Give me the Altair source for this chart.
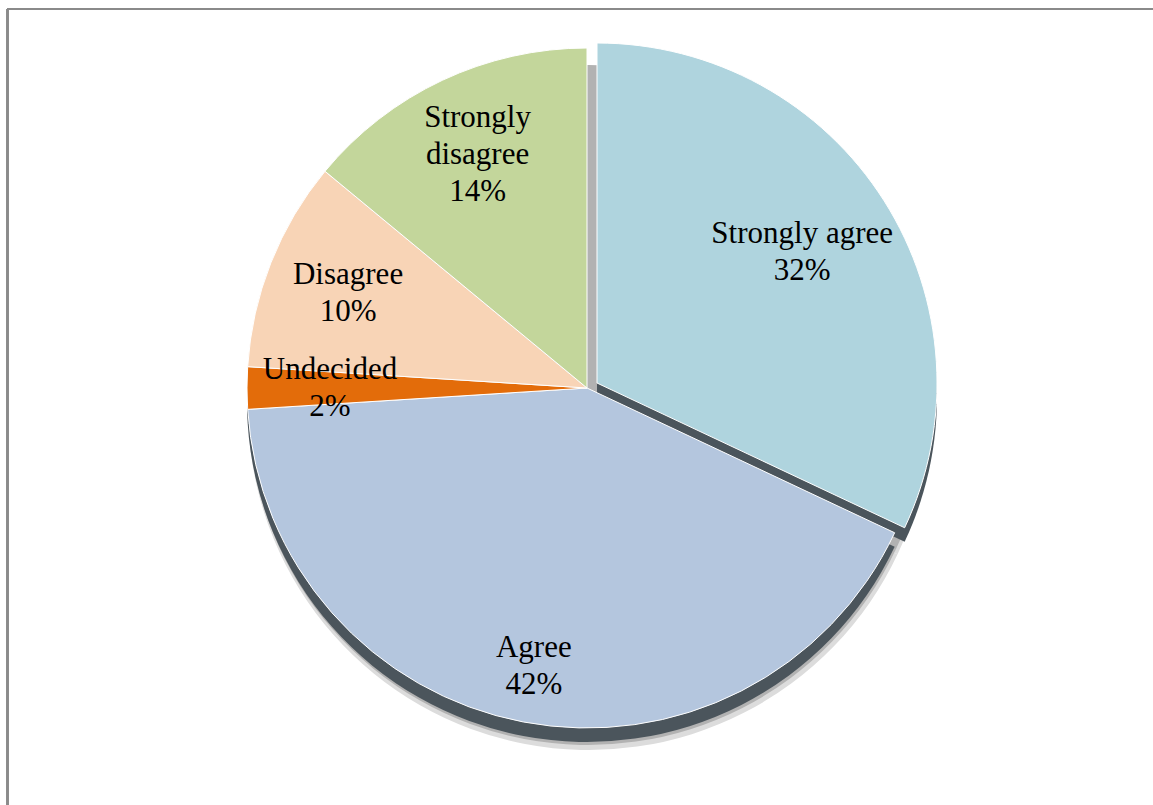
import math
import altair as alt
import pandas as pd

categories = ["Strongly agree", "Agree", "Undecided", "Disagree", "Strongly disagree"]
values = [32, 42, 2, 10, 14]
labels = ["Strongly agree", "Agree", "Undecided", "Disagree", "Strongly\ndisagree"]
colors = ["#afd4de", "#b4c6de", "#e36c0a", "#f8d4b6", "#c3d69b"]

df = pd.DataFrame({
    "order": list(range(len(categories))),
    "category": categories,
    "value": values,
    "label": labels,
})

W, H = 1153, 805
CX, CY, R = 587, 388, 340          # main pie centre / radius
EX, EY = 597, 383                  # exploded slice centre
DEPTH = 14
FONT = "Liberation Serif"
LH = 37

tscale = alt.Scale(domain=[0, 100], range=[0, 2 * math.pi])

base = (
    alt.Chart(df)
    .transform_window(end="sum(value)", sort=[{"field": "order"}], frame=[None, 0])
    .transform_calculate(start="datum.end - datum.value",
                         mid="datum.end - datum.value / 2")
)

def arcs(filt, cx, cy, color=None, stroke=None, r=R):
    ch = base
    if filt:
        ch = ch.transform_filter(filt)
    kw = dict(radius=r)
    if stroke:
        kw.update(stroke=stroke, strokeWidth=1)
    if color:
        kw.update(color=color)
    enc = dict(
        theta=alt.Theta("start:Q", scale=tscale, stack=False),
        theta2=alt.Theta2("end:Q"),
        x=alt.value(cx), y=alt.value(cy),
    )
    if not color:
        enc["color"] = alt.Color("category:N",
                                 scale=alt.Scale(domain=categories, range=colors),
                                 legend=None)
    return ch.mark_arc(**kw).encode(**enc)

main_f = "datum.category != 'Strongly agree'"
expl_f = "datum.category == 'Strongly agree'"

shadow1 = arcs(None, CX + 2, CY + 21, color="#dcdcdc", r=R + 1)
shadow2 = arcs(None, CX + 1, CY + 17, color="#b2b2b2", r=R)
dark_main = arcs(main_f, CX, CY + DEPTH, color="#4b555c")
dark_expl = arcs(expl_f, EX, EY + DEPTH, color="#4b555c")
main = arcs(main_f, CX, CY, stroke="white")
expl = arcs(expl_f, EX, EY, stroke="white")

labels_layer = base.transform_calculate(
    text="datum.label + '\\n' + datum.value + '%'",
    lr="datum.category == 'Agree' ? 284 : (datum.category == 'Strongly agree' ? 243 : 257)",
    cx=f"datum.category == 'Strongly agree' ? {EX} : {CX}",
    cy=f"datum.category == 'Strongly agree' ? {EY} : {CY}",
).transform_calculate(
    nl="length(split(datum.text, '\\n'))",
    ang="2 * PI * datum.mid / 100",
).transform_calculate(
    px="datum.cx + datum.lr * sin(datum.ang)",
    py=f"datum.cy - datum.lr * cos(datum.ang) - (datum.nl - 1) * {LH} / 2",
).mark_text(
    font=FONT, fontSize=31, lineHeight=LH, lineBreak="\n",
    align="center", baseline="middle", color="black",
).encode(
    x=alt.X("px:Q", scale=None),
    y=alt.Y("py:Q", scale=None),
    text="text:N",
)

frame_top = alt.Chart(df).mark_rule(color="#8a8a8a", strokeWidth=2).encode(
    x=alt.value(7), x2=alt.value(W), y=alt.value(9))
frame_left = alt.Chart(df).mark_rule(color="#8a8a8a", strokeWidth=2).encode(
    x=alt.value(7.5), y=alt.value(9), y2=alt.value(H))

chart = alt.layer(
    frame_top, frame_left,
    shadow1, shadow2, dark_main, dark_expl, main, expl,
    labels_layer,
).properties(
    width=W, height=H,
    autosize=alt.AutoSizeParams(type="none"),
    padding=0,
    background="white",
).configure_view(stroke=None)

chart.save("out.html", embed_options={"renderer": "svg", "actions": False})
